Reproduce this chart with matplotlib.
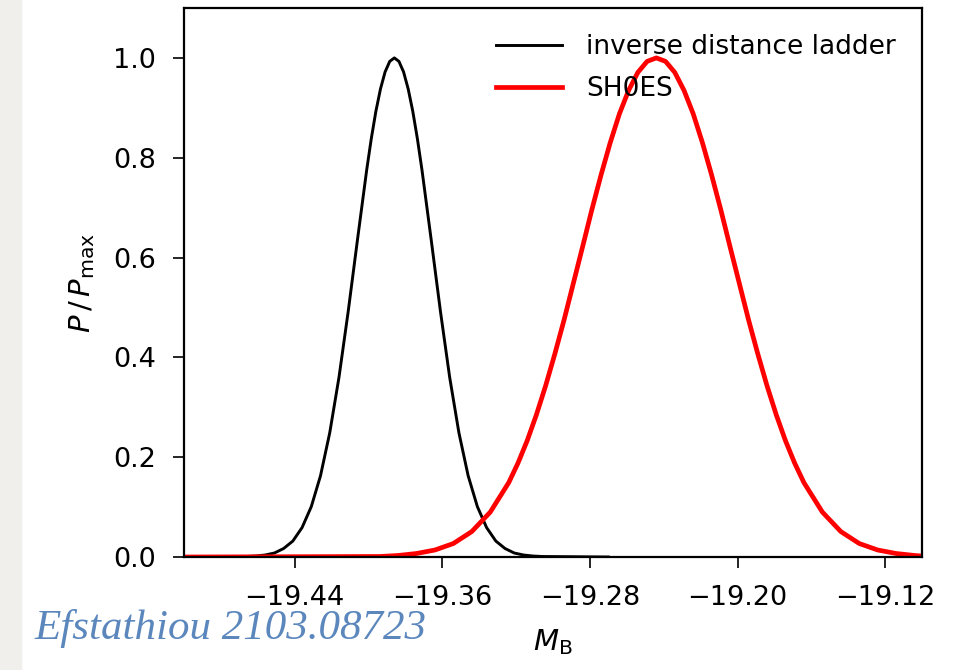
import matplotlib
matplotlib.use("Agg")
import matplotlib.pyplot as plt
from matplotlib.patches import Rectangle

# inverse distance ladder: M_B posterior (normalised)
idl_x = [-19.500, -19.466, -19.461, -19.456, -19.451, -19.446, -19.441, -19.436,
         -19.431, -19.426, -19.421, -19.416, -19.411, -19.406, -19.401, -19.3985,
         -19.396, -19.3935, -19.391, -19.3885, -19.386, -19.3835, -19.381, -19.3785,
         -19.376, -19.3735, -19.371, -19.366, -19.361, -19.356, -19.351, -19.346,
         -19.341, -19.336, -19.331, -19.326, -19.321, -19.316, -19.311, -19.306,
         -19.270]
idl_y = [0.000, 0.001, 0.002, 0.004, 0.008, 0.017, 0.032, 0.059,
         0.101, 0.163, 0.249, 0.360, 0.492, 0.635, 0.775, 0.838,
         0.893, 0.938, 0.972, 0.993, 1.000, 0.993, 0.972, 0.938,
         0.893, 0.838, 0.775, 0.635, 0.492, 0.360, 0.249, 0.163,
         0.101, 0.059, 0.032, 0.017, 0.008, 0.004, 0.002, 0.001,
         0.000]

# SH0ES
sh_x = [-19.500, -19.394, -19.384, -19.374, -19.364, -19.354, -19.344, -19.334,
        -19.324, -19.319, -19.314, -19.309, -19.304, -19.299, -19.294, -19.289,
        -19.284, -19.279, -19.274, -19.269, -19.264, -19.259, -19.254, -19.249,
        -19.244, -19.239, -19.234, -19.229, -19.224, -19.219, -19.214, -19.209,
        -19.204, -19.199, -19.194, -19.189, -19.184, -19.179, -19.174, -19.169,
        -19.164, -19.154, -19.144, -19.134, -19.124, -19.114, -19.104, -19.100]
sh_y = [0.000, 0.001, 0.003, 0.007, 0.014, 0.027, 0.051, 0.090,
        0.149, 0.188, 0.233, 0.285, 0.343, 0.407, 0.475, 0.548,
        0.621, 0.695, 0.765, 0.830, 0.888, 0.935, 0.971, 0.993,
        1.000, 0.993, 0.971, 0.935, 0.888, 0.830, 0.765, 0.695,
        0.621, 0.548, 0.475, 0.407, 0.343, 0.285, 0.233, 0.188,
        0.149, 0.090, 0.051, 0.027, 0.014, 0.007, 0.003, 0.002]

xticks = [-19.44, -19.36, -19.28, -19.20, -19.12]
yticks = [0.0, 0.2, 0.4, 0.6, 0.8, 1.0]

plt.rcParams.update({"font.family": "DejaVu Sans", "font.size": 19})

fig = plt.figure(figsize=(9.62, 6.70), dpi=100, facecolor="white")
fig.patches.append(Rectangle((0, 0), 21/962, 1, transform=fig.transFigure,
                             color="#f0efec", zorder=0))
ax = fig.add_axes([184/962, 1 - 557/670, (922 - 184)/962, (557 - 8)/670])

ax.plot(idl_x, idl_y, color="black", lw=2.1, label="inverse distance ladder")
ax.plot(sh_x, sh_y, color="red", lw=3.4, label="SH0ES")

ax.set_xlim(-19.50, -19.10)
ax.set_ylim(0, 1.1)
ax.set_xticks(xticks)
ax.set_xticklabels([f"\u2212{abs(t):.2f}" for t in xticks])
ax.set_yticks(yticks)
ax.tick_params(length=8, width=1.2, pad=12, labelsize=19.5)
for s in ax.spines.values():
    s.set_linewidth(1.6)

ax.set_xlabel(r"$M_\mathrm{B}$", labelpad=12, fontsize=21)
ax.set_ylabel(r"$P\,/\,P_\mathrm{max}$", labelpad=12, fontsize=21)

ax.legend(loc="upper right", frameon=False, handlelength=2.5, handletextpad=0.9,
          borderaxespad=0.6, labelspacing=0.6, fontsize=19)

fig.text(35/962, 31/670, "Efstathiou 2103.08723", family="Liberation Serif",
         style="italic", fontsize=31, color="#5b87bd", va="baseline")

fig.savefig("out.png", dpi=100, facecolor=fig.get_facecolor())
